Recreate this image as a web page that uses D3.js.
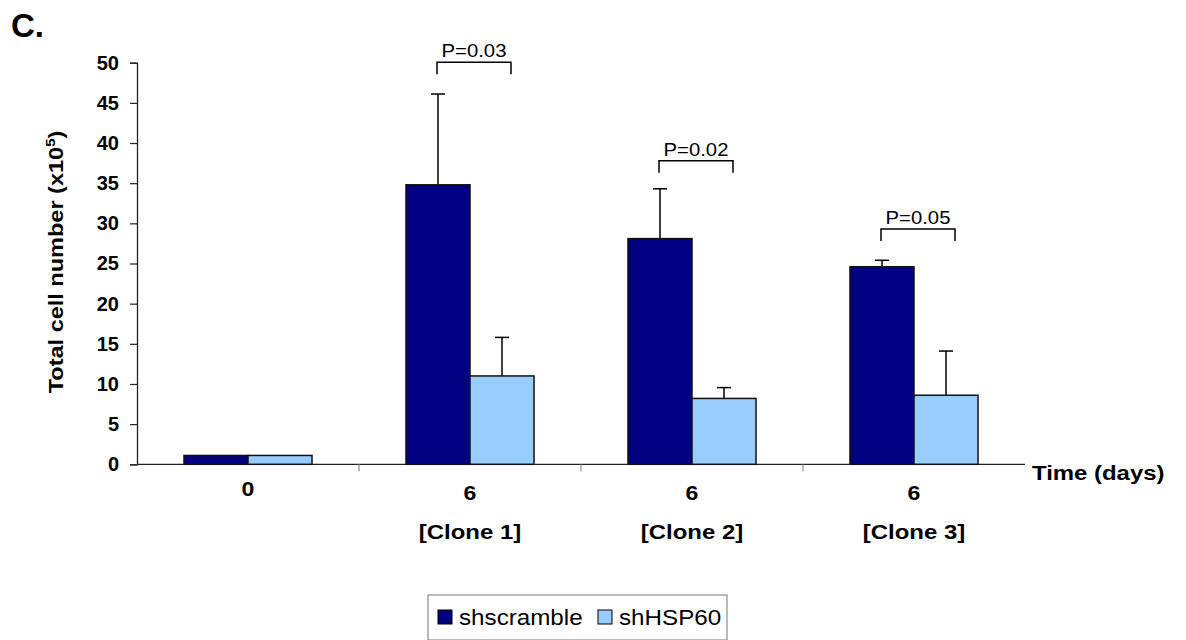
<!DOCTYPE html>
<html><head><meta charset="utf-8">
<script src="https://cdn.jsdelivr.net/npm/d3@7"></script>
<style>body{margin:0;background:#fff}svg{display:block;font-family:"Liberation Sans",Arial,sans-serif}</style>
</head><body>
<script>
const categories = ["0", "6", "6", "6"];
const subLabels = ["", "[Clone 1]", "[Clone 2]", "[Clone 3]"];
const series = ["shscramble", "shHSP60"];
const shscramble = [1.1, 34.8, 28.1, 24.6];
const shscrambleErr = [0, 11.3, 6.2, 0.8];
const shHSP60 = [1.1, 11.0, 8.2, 8.6];
const shHSP60Err = [0, 4.8, 1.35, 5.5];
const pLabels = [null, "P=0.03", "P=0.02", "P=0.05"];
const pLevels = [null, 50.05, 37.8, 29.3];
const yTicks = [0, 5, 10, 15, 20, 25, 30, 35, 40, 45, 50];
const colors = ["#000080", "#99CCFF"];

const W = 1186, H = 640;
const svg = d3.select("body").append("svg").attr("width", W).attr("height", H);

// text drawn wider than normal: bigger font, squashed vertically
function wtext(parent, x, y, str, size, f, opts = {}) {
  const t = parent.append("text")
    .attr("transform", `translate(${x},${y})${opts.rotate ? " rotate(" + opts.rotate + ")" : ""} scale(1,${1 / f})`)
    .attr("font-size", size * f)
    .attr("text-anchor", opts.anchor || "start")
    .attr("font-weight", opts.bold ? "bold" : "normal");
  if (str !== null) t.text(str);
  return t;
}

const x0 = d3.scaleBand().domain(d3.range(categories.length)).range([137, 1025]).paddingInner(0).paddingOuter(0);
const x1 = d3.scaleBand().domain(series).range([0, x0.bandwidth()]).paddingInner(0).paddingOuter(0.734);
const y = d3.scaleLinear().domain([0, 50]).range([464.3, 62.7]);

// panel letter
svg.append("text").attr("x", 11).attr("y", 37).attr("font-size", 33).attr("font-weight", "bold").text("C.");

// y axis
const yAxis = svg.append("g").attr("transform", "translate(137,0)")
  .call(d3.axisLeft(y).tickValues(yTicks).tickSize(7).tickPadding(11));
yAxis.select(".domain").attr("stroke", "#222").attr("stroke-width", 1.3);
yAxis.selectAll(".tick line").attr("stroke", "#222").attr("stroke-width", 1.2);
yAxis.selectAll("text").attr("font-size", 20).attr("font-weight", "bold").attr("fill", "#000")
  .attr("font-family", "Liberation Sans, Arial, sans-serif");

// x axis
const xg = svg.append("g");
xg.append("line").attr("x1", 137).attr("x2", 1025).attr("y1", y(0)).attr("y2", y(0)).attr("stroke", "#222").attr("stroke-width", 1.3);
d3.range(1, categories.length).forEach(i => {
  xg.append("line").attr("x1", x0(i)).attr("x2", x0(i)).attr("y1", y(0)).attr("y2", y(0) + 7).attr("stroke", "#888").attr("stroke-width", 1.2);
});
categories.forEach((c, i) => {
  const cx = x0(i) + x0.bandwidth() / 2;
  wtext(xg, cx, i === 0 ? 496 : 500, c, 21, 1.1, {anchor: "middle", bold: true});
  if (subLabels[i]) wtext(xg, cx, 539, subLabels[i], 21, 1.14, {anchor: "middle", bold: true});
});
wtext(svg, 1032, 480, "Time (days)", 21, 1.14, {bold: true});

// y title
const yt = wtext(svg, 63, 262, null, 21, 1.12, {anchor: "middle", bold: true, rotate: -90});
yt.append("tspan").text("Total cell number (x10");
yt.append("tspan").attr("font-size", 15).attr("dy", -9).text("5");
yt.append("tspan").attr("dy", 9).text(")");

// bars
const data = [
  {name: series[0], vals: shscramble, errs: shscrambleErr, color: colors[0]},
  {name: series[1], vals: shHSP60, errs: shHSP60Err, color: colors[1]}
];
data.forEach(s => {
  s.vals.forEach((v, i) => {
    const bx = x0(i) + x1(s.name);
    const bw = x1.bandwidth();
    if (s.errs[i] > 0) {
      const cx = bx + bw / 2;
      svg.append("line").attr("x1", cx).attr("x2", cx).attr("y1", y(v)).attr("y2", y(v + s.errs[i])).attr("stroke", "#000").attr("stroke-width", 1.5);
      svg.append("line").attr("x1", cx - 7).attr("x2", cx + 7).attr("y1", y(v + s.errs[i])).attr("y2", y(v + s.errs[i])).attr("stroke", "#000").attr("stroke-width", 1.5);
    }
    svg.append("rect").attr("x", bx).attr("y", y(v)).attr("width", bw).attr("height", y(0) - y(v))
      .attr("fill", s.color).attr("stroke", "#111").attr("stroke-width", 1.5);
  });
});

// p-value brackets
pLabels.forEach((p, i) => {
  if (!p) return;
  const cx = x0(i) + x0.bandwidth() / 2;
  const l = cx - 33, r = cx + 41, yy = y(pLevels[i]);
  svg.append("path").attr("d", `M${l},${yy + 12}V${yy}H${r}V${yy + 12}`).attr("fill", "none").attr("stroke", "#000").attr("stroke-width", 1.5);
  wtext(svg, (l + r) / 2, yy - 5, p, 17.5, 1.16, {anchor: "middle"});
});

// legend
const lg = svg.append("g");
lg.append("rect").attr("x", 428).attr("y", 595).attr("width", 299).attr("height", 45).attr("fill", "#fff").attr("stroke", "#777").attr("stroke-width", 1);
const legX = [438, 598];
series.forEach((s, i) => {
  lg.append("rect").attr("x", legX[i]).attr("y", 610).attr("width", 14).attr("height", 14).attr("fill", colors[i]).attr("stroke", "#000").attr("stroke-width", 1);
  wtext(lg, legX[i] + 21, 625, s, 22, 1.1);
});
</script>
</body></html>
